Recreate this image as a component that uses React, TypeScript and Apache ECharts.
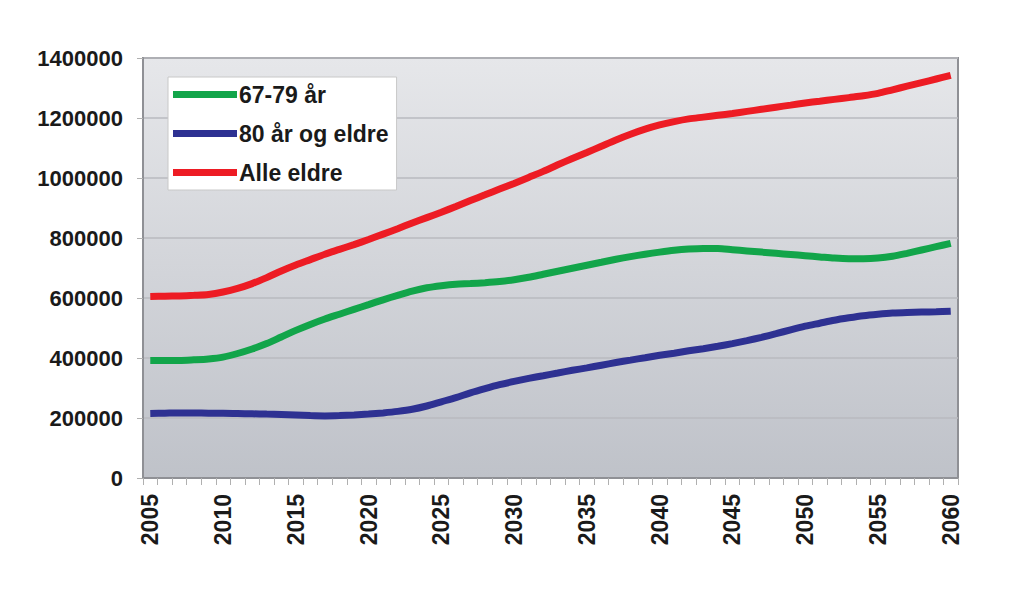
import React, { useEffect, useRef } from "react";
import * as echarts from "echarts";

const years: string[] = [];
for (let y = 2005; y <= 2060; y++) years.push(String(y));

const seriesNames = ["67-79 år", "80 år og eldre", "Alle eldre"];

const age6779 = [
  392000, 392000, 392000, 394000, 397000, 403000, 415000, 430000, 448000, 470000,
  492000, 512000, 530000, 546000, 562000, 578000, 594000, 609000, 623000, 634000,
  641000, 646000, 648000, 651000, 655000, 661000, 669000, 679000, 689000, 699000,
  709000, 719000, 729000, 738000, 746000, 753000, 759000, 763000, 765000, 765000,
  761000, 757000, 753000, 749000, 745000, 741000, 737000, 733000, 731000, 731000,
  733000, 739000, 749000, 760000, 771000, 782000,
];

const age80plus = [
  215000, 216000, 217000, 217000, 216000, 216000, 215000, 214000, 213000, 212000,
  210000, 208000, 207000, 208000, 210000, 213000, 217000, 222000, 229000, 240000,
  254000, 268000, 284000, 298000, 311000, 322000, 332000, 341000, 350000, 359000,
  367000, 376000, 385000, 393000, 401000, 409000, 416000, 424000, 431000, 439000,
  448000, 458000, 469000, 481000, 494000, 506000, 516000, 526000, 534000, 541000,
  546000, 550000, 552000, 553000, 554000, 556000,
];

const allElderly = [
  605000, 606000, 607000, 609000, 612000, 620000, 632000, 648000, 668000, 690000,
  710000, 728000, 746000, 762000, 778000, 795000, 813000, 831000, 850000, 868000,
  886000, 905000, 925000, 944000, 963000, 982000, 1002000, 1022000, 1044000, 1065000,
  1085000, 1106000, 1127000, 1146000, 1163000, 1177000, 1188000, 1197000, 1203000, 1209000,
  1215000, 1222000, 1229000, 1236000, 1243000, 1250000, 1256000, 1262000, 1268000, 1274000,
  1282000, 1294000, 1306000, 1318000, 1330000, 1342000,
];

const colors = ["#12a54a", "#2e3192", "#ed1c24"];
const FONT = "'Liberation Sans', Arial, sans-serif";

export default function App() {
  const ref = useRef<HTMLDivElement>(null);
  useEffect(() => {
    document.body.style.margin = "0";
    if (!ref.current) return;
    const chart = echarts.init(ref.current, undefined, { renderer: "svg" });
    const mk = (name: string, data: number[], color: string) => ({
      name,
      type: "line",
      data,
      smooth: 0.3,
      showSymbol: false,
      symbol: "none",
      lineStyle: { color, width: 7 },
      itemStyle: { color },
      z: 3,
    });
    chart.setOption({
      animation: false,
      backgroundColor: "#ffffff",
      textStyle: { fontFamily: FONT },
      grid: {
        left: 143,
        right: 66,
        top: 58,
        bottom: 117,
        show: true,
        borderColor: "#8f9095",
        borderWidth: 2,
        backgroundColor: {
          type: "linear",
          x: 0,
          y: 0,
          x2: 0,
          y2: 1,
          colorStops: [
            { offset: 0, color: "#e6e7ea" },
            { offset: 1, color: "#bfc2c9" },
          ],
        },
      },
      legend: {
        orient: "vertical",
        left: 168,
        top: 77,
        data: seriesNames,
        icon: "rect",
        itemWidth: 64,
        itemHeight: 7,
        itemGap: 16,
        backgroundColor: "#ffffff",
        borderColor: "#c8c8c8",
        borderWidth: 1,
        padding: [6, 8, 6, 5],
        textStyle: {
          fontFamily: FONT,
          fontSize: 23,
          fontWeight: "bold",
          color: "#1a1a1a",
          lineHeight: 22,
          padding: [0, 0, 0, -3],
        },
      },
      xAxis: {
        type: "category",
        data: years,
        boundaryGap: true,
        axisLine: { show: true, lineStyle: { color: "#8f9095", width: 2 } },
        axisTick: {
          show: true,
          interval: 0,
          length: 7,
          lineStyle: { color: "#b0b0b0", width: 1 },
        },
        axisLabel: {
          interval: 4,
          rotate: 90,
          margin: 16,
          fontFamily: FONT,
          fontSize: 23,
          fontWeight: "bold",
          color: "#1a1a1a",
        },
        splitLine: { show: false },
      },
      yAxis: {
        type: "value",
        min: 0,
        max: 1400000,
        interval: 200000,
        axisLine: { show: true, lineStyle: { color: "#8f9095", width: 2 } },
        axisTick: { show: true, length: 6, lineStyle: { color: "#b0b0b0", width: 1 } },
        axisLabel: {
          margin: 20,
          fontFamily: FONT,
          fontSize: 22,
          fontWeight: "bold",
          color: "#1a1a1a",
          formatter: (v: number) => String(v),
        },
        splitLine: { show: true, lineStyle: { color: "#b9babf", width: 1.5 } },
      },
      series: [
        mk(seriesNames[0], age6779, colors[0]),
        mk(seriesNames[1], age80plus, colors[1]),
        mk(seriesNames[2], allElderly, colors[2]),
      ],
    });
    return () => chart.dispose();
  }, []);
  return (
    <div
      ref={ref}
      style={{ position: "absolute", left: 0, top: 0, width: 1024, height: 595 }}
    />
  );
}
